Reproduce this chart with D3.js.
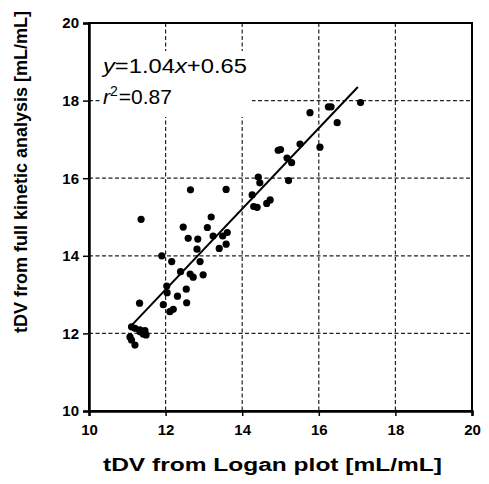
<!DOCTYPE html>
<html>
<head>
<meta charset="utf-8">
<script src="https://cdn.jsdelivr.net/npm/d3@7"></script>
<style>
  body { margin: 0; background: #fff; }
  svg text { font-family: "Liberation Sans", Arial, sans-serif; }
</style>
</head>
<body>
<div id="chart-container"></div>
<script>
// values
const loganX = [17.09, 16.25, 16.32, 15.77, 16.48, 16.03, 15.51, 14.94, 15.00, 15.17,
    15.29, 15.21, 14.42, 14.46, 14.26, 14.30, 14.39, 14.64, 14.73, 12.65,
    13.58, 11.36, 12.46, 12.59, 12.84, 12.82, 13.09, 13.19, 13.24, 13.49,
    13.61, 13.58, 13.40, 11.90, 12.16, 12.90, 12.39, 12.64, 12.72, 12.98,
    12.03, 12.04, 12.54, 12.31, 11.32, 11.94, 12.55, 12.11, 12.20, 11.11,
    11.20, 11.33, 11.46, 11.42, 11.49, 11.07, 11.11, 11.20, 11.33];
const kineticY = [17.95, 17.84, 17.84, 17.69, 17.43, 16.80, 16.88, 16.72, 16.74, 16.52,
    16.40, 15.94, 16.03, 15.88, 15.57, 15.27, 15.25, 15.35, 15.44, 15.70,
    15.71, 14.94, 14.74, 14.45, 14.43, 14.17, 14.73, 15.00, 14.51, 14.51,
    14.60, 14.30, 14.19, 14.00, 13.85, 13.85, 13.59, 13.53, 13.45, 13.51,
    13.22, 13.05, 13.14, 12.96, 12.78, 12.74, 12.79, 12.56, 12.62, 12.17,
    12.13, 12.09, 12.07, 11.98, 11.96, 11.91, 11.83, 11.70, 12.04];
const ticks = [10, 12, 14, 16, 18, 20];
const fitSlope = 1.04;
const fitIntercept = 0.65;
const fitRange = [11.1, 17.02];

const margin = { top: 23, right: 17, bottom: 73, left: 89 };
const width = 489 - margin.left - margin.right;
const height = 484 - margin.top - margin.bottom;

const svg = d3.select("#chart-container")
    .append("svg")
    .attr("width", 489)
    .attr("height", 484)
    .append("g")
    .attr("transform", `translate(${margin.left},${margin.top})`);

const xScale = d3.scaleLinear().domain([10, 20]).range([0, width]);
const yScale = d3.scaleLinear().domain([10, 20]).range([height, 0]);

// dashed grid
svg.append("g")
    .selectAll("line")
    .data(ticks.slice(1, -1))
    .enter()
    .append("line")
    .attr("x1", d => xScale(d))
    .attr("x2", d => xScale(d))
    .attr("y1", 0)
    .attr("y2", height)
    .attr("stroke", "#222")
    .attr("stroke-width", 1.2)
    .attr("stroke-dasharray", "4,2.5");

svg.append("g")
    .selectAll("line")
    .data(ticks.slice(1, -1))
    .enter()
    .append("line")
    .attr("x1", 0)
    .attr("x2", width)
    .attr("y1", d => yScale(d))
    .attr("y2", d => yScale(d))
    .attr("stroke", "#222")
    .attr("stroke-width", 1.2)
    .attr("stroke-dasharray", "4,2.5");

// white box behind the equation hides the grid there
svg.append("rect")
    .attr("x", 12)
    .attr("y", 28)
    .attr("width", 151)
    .attr("height", 66)
    .attr("fill", "#fff");

// frame
svg.append("rect")
    .attr("width", width)
    .attr("height", height)
    .attr("fill", "none")
    .attr("stroke", "#000")
    .attr("stroke-width", 2);

// axes
const xAxis = svg.append("g")
    .attr("transform", `translate(0, ${height})`)
    .call(d3.axisBottom(xScale).tickValues(ticks).tickSize(5).tickPadding(8));

const yAxis = svg.append("g")
    .call(d3.axisLeft(yScale).tickValues(ticks).tickSize(6).tickPadding(4));

[xAxis, yAxis].forEach(ax => {
    ax.select(".domain").attr("stroke-width", 2.5);
    ax.selectAll(".tick line").attr("stroke-width", 1.5);
    ax.selectAll("text")
        .attr("fill", "#000")
        .style("font-size", "15px")
        .style("font-weight", "bold");
});

// regression line
svg.append("line")
    .attr("x1", xScale(fitRange[0]))
    .attr("y1", yScale(fitSlope * fitRange[0] + fitIntercept))
    .attr("x2", xScale(fitRange[1]))
    .attr("y2", yScale(fitSlope * fitRange[1] + fitIntercept))
    .attr("stroke", "#000")
    .attr("stroke-width", 2);

// points
svg.selectAll("circle")
    .data(loganX.map((x, i) => ({ x: x, y: kineticY[i] })))
    .enter()
    .append("circle")
    .attr("cx", d => xScale(d.x))
    .attr("cy", d => yScale(d.y))
    .attr("r", 3.6)
    .style("fill", "#000");

// equation
const eq = svg.append("text")
    .attr("x", 14)
    .attr("y", 50)
    .attr("textLength", 144)
    .attr("lengthAdjust", "spacingAndGlyphs")
    .style("font-size", "20px")
    .attr("fill", "#000");
eq.append("tspan").style("font-style", "italic").text("y");
eq.append("tspan").text("=1.04");
eq.append("tspan").style("font-style", "italic").text("x");
eq.append("tspan").text("+0.65");

const r2 = svg.append("text")
    .attr("x", 14)
    .attr("y", 81)
    .style("font-size", "21px")
    .attr("fill", "#000");
r2.append("tspan").style("font-style", "italic").text("r");
r2.append("tspan").attr("dy", -8).style("font-size", "14px").text("2");
r2.append("tspan").attr("dy", 8).attr("dx", 1).text("=0.87");

// axis titles
svg.append("text")
    .attr("x", 103 - margin.left)
    .attr("y", height + 60)
    .attr("textLength", 339)
    .attr("lengthAdjust", "spacingAndGlyphs")
    .style("font-size", "18px")
    .style("font-weight", "bold")
    .text("tDV from Logan plot [mL/mL]");

svg.append("text")
    .attr("transform", "rotate(-90)")
    .attr("x", -(172 - margin.top))
    .attr("y", -62)
    .attr("text-anchor", "middle")
    .style("font-size", "18px")
    .style("font-weight", "bold")
    .text("tDV from full kinetic analysis [mL/mL]");
</script>
</body>
</html>
